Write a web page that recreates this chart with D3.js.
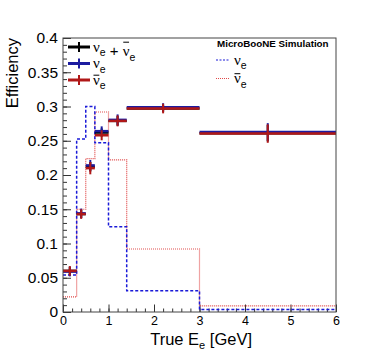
<!DOCTYPE html>
<html>
<head>
<meta charset="utf-8">
<script src="https://cdn.jsdelivr.net/npm/d3@7"></script>
<style>
  body { margin: 0; background: #fff; }
  svg { display: block; font-family: 'Liberation Sans', Arial, sans-serif; }
</style>
</head>
<body>
<svg></svg>
<script>
// bins in true electron energy (GeV)
const binEdges = [0, 0.3, 0.5, 0.7, 1.0, 1.4, 3, 6]

// efficiency points with errors
const effAll = [0.060, 0.143, 0.212, 0.262, 0.279, 0.297, 0.261]
const errAll = [0.006, 0.006, 0.007, 0.006, 0.007, 0.005, 0.012]
const effNue = [0.059, 0.144, 0.214, 0.264, 0.2805, 0.2988, 0.2627]
const errNue = [0.007, 0.007, 0.008, 0.007, 0.008, 0.006, 0.013]
const effNuebar = [0.060, 0.143, 0.210, 0.258, 0.279, 0.297, 0.2605]
const errNuebar = [0.007, 0.007, 0.009, 0.0073, 0.008, 0.007, 0.0135]

// normalised event distributions (step outlines)
const histNue = [0.054, 0.2525, 0.300, 0.247, 0.1245, 0.031, 0.0035]
const histNuebar = [0.022, 0.150, 0.224, 0.292, 0.222, 0.092, 0.009]

const xTicks = [0, 1, 2, 3, 4, 5, 6]
const yTicks = [0, 0.05, 0.1, 0.15, 0.2, 0.25, 0.3, 0.35, 0.4]

let width = 374, height = 355
let m = {left: 63, top: 38, right: 38, bottom: 43}

let svg = d3.select('svg').attr('width', width).attr('height', height)

let scX = d3.scaleLinear().domain([0, 6]).range([m.left, width - m.right])
let scY = d3.scaleLinear().domain([0, 0.4]).range([height - m.bottom, m.top])

const font = "'Liberation Sans', Arial, sans-serif"
const greek = "'Liberation Serif', 'DejaVu Serif', serif"

// axes, ROOT style: ticks pointing inward
let xMinor = d3.axisBottom(scX).tickValues(d3.range(0, 6.001, 0.2)).tickSize(-3.5).tickFormat('')
let xMajor = d3.axisBottom(scX).tickValues(xTicks).tickSize(-7.5).tickPadding(4).tickFormat(d3.format('d'))
let yMinor = d3.axisLeft(scY).tickValues(d3.range(0, 0.4001, 0.01)).tickSize(-4).tickFormat('')
let yMajor = d3.axisLeft(scY).tickValues(yTicks).tickSize(-8).tickPadding(5).tickFormat(d => d === 0 ? '0' : d3.format('')(+d.toFixed(2)))

let gx = svg.append('g').attr('transform', `translate(0, ${height - m.bottom})`)
gx.append('g').call(xMinor)
gx.append('g').call(xMajor)
let gy = svg.append('g').attr('transform', `translate(${m.left}, 0)`)
gy.append('g').call(yMinor)
gy.append('g').call(yMajor)

svg.selectAll('.domain').remove()
svg.selectAll('.tick line').attr('stroke', '#333')
gx.selectAll('text').attr('font-size', 12.5).attr('font-family', font).attr('fill', '#000')
gy.selectAll('text').attr('font-size', 15.5).attr('font-family', font).attr('fill', '#000')

// step outlines
const steps = vals => vals.flatMap((v, i) => [[binEdges[i], v], [binEdges[i + 1], v]])
let stepLine = d3.line().x(d => scX(d[0])).y(d => scY(d[1]))

svg.append('path')
	.attr('d', stepLine(steps(histNuebar)))
	.attr('fill', 'none')
	.attr('stroke', '#e04848')
	.attr('stroke-width', 1.2)
	.attr('stroke-dasharray', '1,1')

svg.append('path')
	.attr('d', stepLine(steps(histNue)))
	.attr('fill', 'none')
	.attr('stroke', '#1a1ad8')
	.attr('stroke-width', 1.5)
	.attr('stroke-dasharray', '3,2')

// efficiency crosses
const series = [
	{eff: effAll, err: errAll, color: '#000'},
	{eff: effNue, err: errNue, color: '#1c1ca0'},
	{eff: effNuebar, err: errNuebar, color: '#b01818'}
]

series.forEach(s => {
	let g = svg.append('g')
	let pts = s.eff.map((v, i) => ({v, e: s.err[i], lo: binEdges[i], hi: binEdges[i + 1]}))
	g.selectAll('line.h').data(pts).enter().append('line')
		.attr('x1', d => scX(d.lo)).attr('x2', d => scX(d.hi))
		.attr('y1', d => scY(d.v)).attr('y2', d => scY(d.v))
		.attr('stroke', s.color).attr('stroke-width', 2.5)
	g.selectAll('line.v').data(pts).enter().append('line')
		.attr('x1', d => scX((d.lo + d.hi) / 2)).attr('x2', d => scX((d.lo + d.hi) / 2))
		.attr('y1', d => scY(d.v - d.e)).attr('y2', d => scY(d.v + d.e))
		.attr('stroke', s.color).attr('stroke-width', 2)
})

// frame
svg.append('rect')
	.attr('x', m.left).attr('y', m.top)
	.attr('width', width - m.left - m.right).attr('height', height - m.top - m.bottom)
	.attr('fill', 'none').attr('stroke', '#444').attr('stroke-width', 1)

// axis titles
svg.append('text')
	.attr('transform', `translate(18, ${m.top}) rotate(-90)`)
	.attr('text-anchor', 'end')
	.attr('font-size', 16.5).attr('font-family', font)
	.text('Efficiency')

let xt = svg.append('text')
	.attr('x', width - m.right - 84).attr('y', 345)
	.attr('text-anchor', 'end')
	.attr('font-size', 16.5).attr('font-family', font)
xt.append('tspan').text('True E')
xt.append('tspan').attr('font-size', 11).attr('dy', 4).text('e')
xt.append('tspan').attr('dy', -4).text(' [GeV]')

// neutrino label: parts are [text, bar?, sub?]
function nuLabel(x, y, parts, size) {
	let t = svg.append('text').attr('x', x).attr('y', y)
		.attr('font-size', size).attr('font-family', font)
	let idx = 0, bars = []
	parts.forEach(p => {
		if (p.sub) {
			t.append('tspan').attr('dy', size * 0.3).attr('font-size', size * 0.7).text(p.t)
			t.append('tspan').attr('dy', -size * 0.3).text('')
		} else {
			let ts = t.append('tspan').text(p.t)
			if (p.greek) ts.attr('font-family', greek)
			if (p.bar) bars.push(idx)
		}
		idx += p.t.length
	})
	bars.forEach(i => {
		let b = t.node().getExtentOfChar(i)
		svg.append('line')
			.attr('x1', b.x + 0.5).attr('x2', b.x + b.width - 0.5)
			.attr('y1', y - size * 0.62).attr('y2', y - size * 0.62)
			.attr('stroke', '#000').attr('stroke-width', 1)
	})
}

// left legend
const legendRows = [
	{s: series[0], y: 47, parts: [{t: 'ν', greek: true}, {t: 'e', sub: true}, {t: ' + '}, {t: 'ν', greek: true, bar: true}, {t: 'e', sub: true}]},
	{s: series[1], y: 63.5, parts: [{t: 'ν', greek: true}, {t: 'e', sub: true}]},
	{s: series[2], y: 80, parts: [{t: 'ν', greek: true, bar: true}, {t: 'e', sub: true}]}
]
legendRows.forEach(r => {
	svg.append('line').attr('x1', 68).attr('x2', 90).attr('y1', r.y).attr('y2', r.y)
		.attr('stroke', r.s.color).attr('stroke-width', 3)
	svg.append('line').attr('x1', 79).attr('x2', 79).attr('y1', r.y - 5).attr('y2', r.y + 5)
		.attr('stroke', r.s.color).attr('stroke-width', 2)
	nuLabel(93, r.y + 4.5, r.parts, 15)
})

// right legend
svg.append('text')
	.attr('x', 217).attr('y', 47)
	.attr('font-size', 9.8).attr('font-weight', 'bold').attr('font-family', font)
	.text('MicroBooNE Simulation')

svg.append('line').attr('x1', 216).attr('x2', 230).attr('y1', 60).attr('y2', 60)
	.attr('stroke', '#1a1ad8').attr('stroke-width', 1.2).attr('stroke-dasharray', '2,1.5')
nuLabel(234, 64.5, [{t: 'ν', greek: true}, {t: 'e', sub: true}], 15)

svg.append('line').attr('x1', 216).attr('x2', 230).attr('y1', 78.5).attr('y2', 78.5)
	.attr('stroke', '#e04848').attr('stroke-width', 1).attr('stroke-dasharray', '1,1')
nuLabel(234, 83, [{t: 'ν', greek: true, bar: true}, {t: 'e', sub: true}], 15)
</script>
</body>
</html>
